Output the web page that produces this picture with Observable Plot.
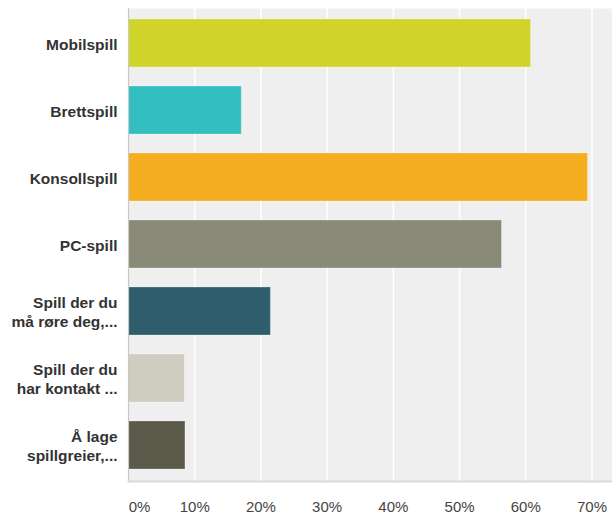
<!DOCTYPE html>
<html>
<head>
<meta charset="utf-8">
<script src="https://cdn.jsdelivr.net/npm/d3@7"></script>
<script src="https://cdn.jsdelivr.net/npm/@observablehq/plot@0.6"></script>
<style>
  html, body { margin: 0; padding: 0; background: #fff; }
  #chart { width: 612px; height: 515px; }
</style>
</head>
<body>
<div id="chart"></div>
<script>
const categories = [
  "Mobilspill",
  "Brettspill",
  "Konsollspill",
  "PC-spill",
  "Spill der du\nmå røre deg,...",
  "Spill der du\nhar kontakt ...",
  "Å lage\nspillgreier,..."
];
const values = [0.608, 0.171, 0.694, 0.564, 0.215, 0.085, 0.086];
const palette = ["#d0d42a", "#33bec0", "#f5ae1f", "#8a8a78", "#2e5e6c", "#cfcdbf", "#5c5a4b"];
const tickValues = [0, 0.1, 0.2, 0.3, 0.4, 0.5, 0.6, 0.7];
const tickLabels = ["0%", "10%", "20%", "30%", "40%", "50%", "60%", "70%"];

const data = categories.map((c, i) => ({category: c, value: values[i]}));
const ticks = tickValues.map((v, i) => ({v, label: tickLabels[i]}));

const font = "'Liberation Sans', Arial, sans-serif";

const chart = Plot.plot({
  width: 612,
  height: 515,
  marginLeft: 128,
  marginRight: 0,
  marginTop: 8,
  marginBottom: 34,
  style: {fontFamily: font, background: "#fff"},
  x: {domain: [0, 0.731], axis: null},
  y: {domain: categories, axis: null, paddingInner: 0.28, paddingOuter: 0.14, align: 0.5},
  color: {domain: categories, range: palette},
  marks: [
    Plot.frame({fill: "#efefef", stroke: null}),
    Plot.ruleX(tickValues.slice(1), {stroke: "#ffffff", strokeWidth: 1.5}),
    Plot.barX(data, {
      y: "category", x: "value", fill: "category",
      stroke: "#ffffff", strokeOpacity: 0.25, strokeWidth: 1
    }),
    Plot.ruleX([0], {stroke: "#c8c8c8", strokeWidth: 1.2}),
    Plot.frame({anchor: "bottom", stroke: "#d9d9d9", strokeWidth: 2}),
    Plot.text(data, {
      y: "category", x: 0, dx: -11, text: "category",
      textAnchor: "end", lineAnchor: "middle", lineHeight: 1.23,
      fontSize: 15.5, fontWeight: "bold", fill: "#333333"
    }),
    Plot.text(ticks.slice(0, 1), {
      x: "v", text: "label", frameAnchor: "bottom", dy: 26, dx: 11,
      lineAnchor: "middle", fontSize: 15, fill: "#444444"
    }),
    Plot.text(ticks.slice(1), {
      x: "v", text: "label", frameAnchor: "bottom", dy: 26,
      lineAnchor: "middle", fontSize: 15, fill: "#444444"
    })
  ]
});
document.getElementById("chart").appendChild(chart);
</script>
</body>
</html>
